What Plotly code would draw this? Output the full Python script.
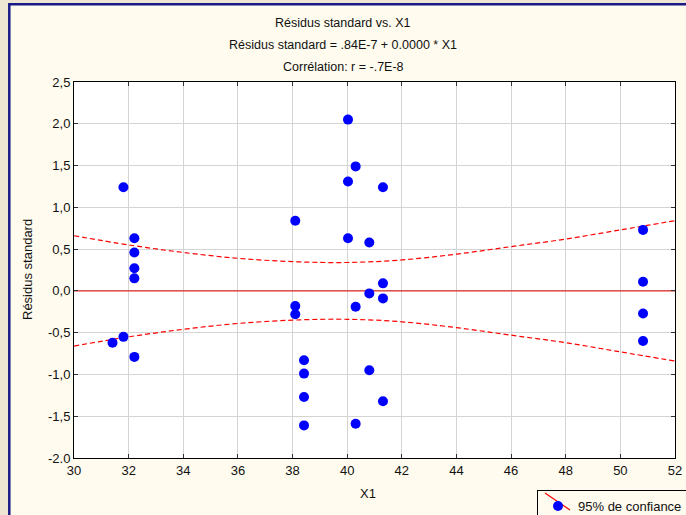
import plotly.graph_objects as go

# ---- data ----
x_pts = [31.81, 32.21, 32.21, 32.21, 32.21, 31.81, 31.41, 32.21,
         40.03, 40.31, 40.03, 41.31, 38.10, 40.03, 40.81, 41.31, 40.81, 41.31,
         40.31, 38.10, 38.10, 38.42, 38.42, 40.81, 38.42, 41.31, 38.42, 40.31,
         50.83, 50.83, 50.83, 50.83]
y_pts = [1.24, 0.63, 0.46, 0.27, 0.15, -0.55, -0.62, -0.79,
         2.05, 1.49, 1.31, 1.24, 0.84, 0.63, 0.58, 0.09, -0.03, -0.09,
         -0.19, -0.18, -0.28, -0.83, -0.99, -0.95, -1.27, -1.32, -1.61, -1.59,
         0.73, 0.11, -0.27, -0.60]

band_x = [30, 32, 34, 36, 38, 40, 42, 44, 46, 48, 50, 52]
band_upper = [0.66, 0.55, 0.46, 0.39, 0.35, 0.34, 0.37, 0.44, 0.53, 0.62, 0.73, 0.84]
band_lower = [-0.66, -0.55, -0.46, -0.39, -0.35, -0.34, -0.37, -0.44, -0.53, -0.62, -0.73, -0.84]

fit_x = [30, 52]
fit_y = [0.0, 0.0]

x_ticks = [30, 32, 34, 36, 38, 40, 42, 44, 46, 48, 50, 52]
y_ticks = [-2.0, -1.5, -1.0, -0.5, 0.0, 0.5, 1.0, 1.5, 2.0, 2.5]
y_ticklabels = ["-2.0", "-1,5", "-1,0", "-0,5", "0,0", "0,5", "1,0", "1,5", "2,0", "2,5"]

title_lines = ["Résidus standard vs. X1",
               "Résidus standard = .84E-7 + 0.0000 * X1",
               "Corrélation: r = -.7E-8"]

# ---- layout geometry (pixels) ----
W, H = 686, 515
L, R, T, B = 74, 11, 82, 57
PW, PH = W - L - R, H - T - B

def px(xp):
    return (xp - L) / PW

def py(yp):
    return (H - B - yp) / PH

FONT = "Liberation Sans, Arial, sans-serif"
CREAM = "#FFFBEE"
BEIGE = "#EEE5D2"

fig = go.Figure()

fig.add_trace(go.Scatter(x=fit_x, y=fit_y, mode="lines",
                         line=dict(color="#E02828", width=1.3), showlegend=False, hoverinfo="skip"))
fig.add_trace(go.Scatter(x=band_x, y=band_upper, mode="lines", line_shape="spline",
                         line=dict(color="#FF0000", width=1.2, dash="5px,3px"), showlegend=False))
fig.add_trace(go.Scatter(x=band_x, y=band_lower, mode="lines", line_shape="spline",
                         line=dict(color="#FF0000", width=1.2, dash="5px,3px"), showlegend=False))
fig.add_trace(go.Scatter(x=x_pts, y=y_pts, mode="markers", name="95% de confiance",
                         marker=dict(color="#0000FF", size=10, line=dict(width=0))))

shapes = [
    dict(type="rect", xref="paper", yref="paper", layer="below",
         x0=px(9.3), x1=px(W + 20), y0=py(4.3), y1=py(H + 20),
         fillcolor=CREAM, line=dict(color="#1A1A86", width=2.5)),
    dict(type="rect", xref="paper", yref="paper", layer="below",
         x0=0, x1=1, y0=0, y1=1, fillcolor="white", line=dict(width=0)),
    dict(type="line", xref="paper", yref="paper", layer="above",
         x0=px(545), x1=px(570), y0=py(493), y1=py(510),
         line=dict(color="#FF0000", width=1.2)),
]

annotations = []
for i, t in enumerate(title_lines):
    annotations.append(dict(text=t, xref="paper", yref="paper", x=px(343), y=py(23 + 22 * i),
                            xanchor="center", yanchor="middle", showarrow=False,
                            font=dict(family=FONT, size=12.5, color="#111111")))
annotations.append(dict(text="X1", xref="paper", yref="paper", x=px(368), y=py(493),
                        xanchor="center", yanchor="middle", showarrow=False,
                        font=dict(family=FONT, size=13, color="#111111")))
annotations.append(dict(text="Résidus standard", xref="paper", yref="paper", x=px(27), y=py(270),
                        xanchor="center", yanchor="middle", showarrow=False, textangle=-90,
                        font=dict(family=FONT, size=13, color="#111111")))

axis_common = dict(showline=True, linecolor="black", linewidth=1, mirror="allticks",
                   ticks="inside", ticklen=4, tickcolor="#333333",
                   showgrid=True, gridcolor="#D4D4D4", gridwidth=1, zeroline=False,
                   tickfont=dict(family=FONT, size=13, color="#111111"))

fig.update_layout(
    width=W, height=H,
    margin=dict(l=L, r=R, t=T, b=B, autoexpand=False),
    paper_bgcolor=BEIGE, plot_bgcolor="white",
    xaxis=dict(range=[30, 52], tickvals=x_ticks, ticktext=[str(v) for v in x_ticks], **axis_common),
    yaxis=dict(range=[-2.0, 2.5], tickvals=y_ticks, ticktext=y_ticklabels, **axis_common),
    shapes=shapes, annotations=annotations,
    showlegend=True,
    legend=dict(xref="container", yref="container", x=537 / W, y=(H - 490) / H,
                xanchor="left", yanchor="top", bgcolor="rgba(0,0,0,0)",
                bordercolor="black", borderwidth=1,
                font=dict(family=FONT, size=13, color="#111111")),
)

fig.write_html("out.html")
